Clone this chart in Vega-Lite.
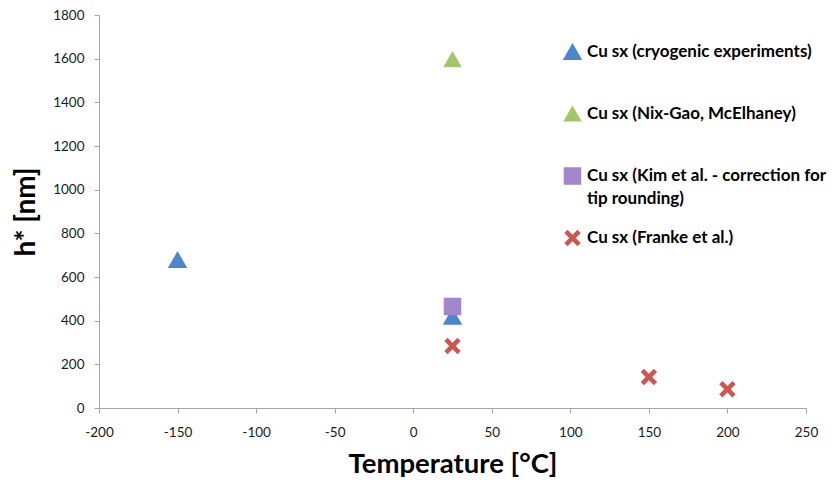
{
  "$schema": "https://vega.github.io/schema/vega-lite/v6.json",
  "autosize": {"type": "none"},
  "width": 707,
  "height": 393,
  "padding": {"left": 99, "top": 15, "right": 29, "bottom": 78},
  "background": "white",
  "config": {
    "font": "Lato",
    "view": {"stroke": null},
    "style": {"guide-label": {"lineHeight": 23}},
    "axis": {
      "grid": false,
      "domainColor": "#a6a6a6",
      "tickColor": "#a6a6a6",
      "tickSize": 5,
      "labelFont": "Lato",
      "labelFontSize": 13.5,
      "labelColor": "#1a1a1a",
      "titleFont": "Lato",
      "titleFontWeight": "bold",
      "titleColor": "#000000"
    }
  },
  "data": {
    "values": [
      {"T": -150, "h": 680, "series": "Cu sx (cryogenic experiments)"},
      {"T": 25, "h": 420, "series": "Cu sx (cryogenic experiments)"},
      {"T": 25, "h": 1598, "series": "Cu sx (Nix-Gao, McElhaney)"},
      {"T": 25, "h": 465, "series": "Cu sx (Kim et al. - correction for tip rounding)"},
      {"T": 25, "h": 284, "series": "Cu sx (Franke et al.)"},
      {"T": 150, "h": 142, "series": "Cu sx (Franke et al.)"},
      {"T": 200, "h": 86, "series": "Cu sx (Franke et al.)"}
    ]
  },
  "transform": [{"calculate": "datum.series", "as": "grp"}],
  "mark": {"type": "point", "filled": true, "opacity": 1},
  "encoding": {
    "x": {
      "field": "T", "type": "quantitative",
      "scale": {"domain": [-200, 250], "nice": false, "zero": false},
      "axis": {"values": [-200, -150, -100, -50, 0, 50, 100, 150, 200, 250], "labelExpr": "datum.value < 0 ? '-' + abs(datum.value) : '' + datum.value", "title": "Temperature [°C]", "titleFontSize": 27.5, "labelPadding": 12, "titlePadding": 12, "labelFlush": false}
    },
    "y": {
      "field": "h", "type": "quantitative",
      "scale": {"domain": [0, 1800], "nice": false},
      "axis": {"values": [0, 200, 400, 600, 800, 1000, 1200, 1400, 1600, 1800], "format": "d", "title": "h* [nm]", "titleFontSize": 28, "labelPadding": 10, "titlePadding": 12, "labelFlush": false}
    },
    "color": {
      "field": "series", "type": "nominal",
      "scale": {
        "domain": ["Cu sx (cryogenic experiments)", "Cu sx (Nix-Gao, McElhaney)", "Cu sx (Kim et al. - correction for tip rounding)", "Cu sx (Franke et al.)"],
        "range": ["#4a87cc", "#a3c66a", "#a386cc", "#cf5552"]
      },
      "legend": {
        "orient": "none", "legendX": 463, "legendY": 26, "title": null,
        "labelFont": "Lato", "labelFontSize": 17, "labelFontWeight": "bold", "labelColor": "#000000",
        "labelLimit": 400, "rowPadding": 19, "symbolOpacity": 1, "labelOffset": 4, "symbolSize": 140,
        "labelExpr": "datum.label == 'Cu sx (Kim et al. - correction for tip rounding)' ? ['Cu sx (Kim et al. - correction for', 'tip rounding)'] : [datum.label, '']"
      }
    },
    "shape": {
      "field": "series", "type": "nominal",
      "scale": {
        "domain": ["Cu sx (cryogenic experiments)", "Cu sx (Nix-Gao, McElhaney)", "Cu sx (Kim et al. - correction for tip rounding)", "Cu sx (Franke et al.)"],
        "range": ["triangle-up", "triangle-up", "square", "M-1,-0.6L-0.6,-1L0,-0.4L0.6,-1L1,-0.6L0.4,0L1,0.6L0.6,1L0,0.4L-0.6,1L-1,0.6L-0.4,0Z"]
      }
    },
    "size": {
      "field": "grp", "type": "nominal", "legend": null,
      "scale": {
        "domain": ["Cu sx (cryogenic experiments)", "Cu sx (Nix-Gao, McElhaney)", "Cu sx (Kim et al. - correction for tip rounding)", "Cu sx (Franke et al.)"],
        "range": [380, 270, 170, 170]
      }
    }
  }
}
